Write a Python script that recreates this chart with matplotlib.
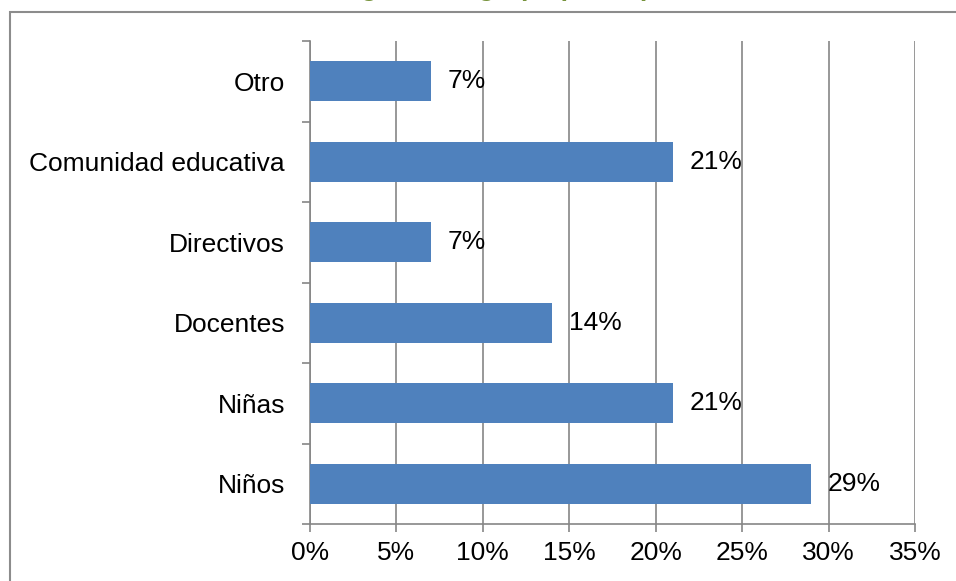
import matplotlib.pyplot as plt
import matplotlib.patches as mpatches
import numpy as np

plt.rcParams['font.family'] = ['Liberation Sans', 'DejaVu Sans']

# Categories from bottom to top
categories = ['Niños', 'Niñas', 'Docentes', 'Directivos', 'Comunidad educativa', 'Otro']
values = [29, 21, 14, 7, 21, 7]
x_ticks = [0, 5, 10, 15, 20, 25, 30, 35]
x_tick_labels = ['0%', '5%', '10%', '15%', '20%', '25%', '30%', '35%']
title = 'Categoría del grupo participante'

W, H = 956, 581
fig = plt.figure(figsize=(W / 100, H / 100), dpi=100)
ax = fig.add_axes([310 / W, 1 - 524 / H, 605 / W, 483 / H])

pos = np.arange(len(categories))
ax.barh(pos, values, height=0.5, color='#4F81BD', zorder=3)

# data labels
for p, v in zip(pos, values):
    ax.annotate(f'{v}%', (v, p), xytext=(12, 0), textcoords='offset points',
                va='center', ha='left', fontsize=19, color='black', zorder=4)

ax.set_xlim(0, 35)
ax.set_ylim(-0.5, len(categories) - 0.5)
ax.set_xticks(x_ticks)
ax.set_xticklabels(x_tick_labels, fontsize=19)
ax.set_yticks(pos)
ax.set_yticklabels(categories, fontsize=19)
ax.set_yticks(np.arange(-0.5, len(categories)), minor=True)

gray = '#868686'
ax.grid(axis='x', color=gray, linewidth=1.2, zorder=0)
for side in ['top', 'right']:
    ax.spines[side].set_visible(False)
for side in ['left', 'bottom']:
    ax.spines[side].set_color(gray)
    ax.spines[side].set_linewidth(1.2)
ax.tick_params(axis='y', which='major', length=0, pad=18)
ax.tick_params(axis='y', which='minor', length=6, width=1.2, color=gray)
ax.tick_params(axis='x', which='major', length=6, width=1.2, color=gray, pad=6)

# outer chart border (clipped by the image edges)
fig.patches.append(mpatches.Rectangle((10 / W, -0.5), 2, 1.5 - 12 / H,
                                      transform=fig.transFigure, fill=False,
                                      edgecolor='#8C8C8C', linewidth=1.5))

# title mostly cut off at the top, as in the source image
fig.text(0.53, 1 + 4 / H, title, ha='center', va='baseline', fontsize=19,
         fontweight='bold', color='#77933C')

fig.savefig('out.png', dpi=100)
